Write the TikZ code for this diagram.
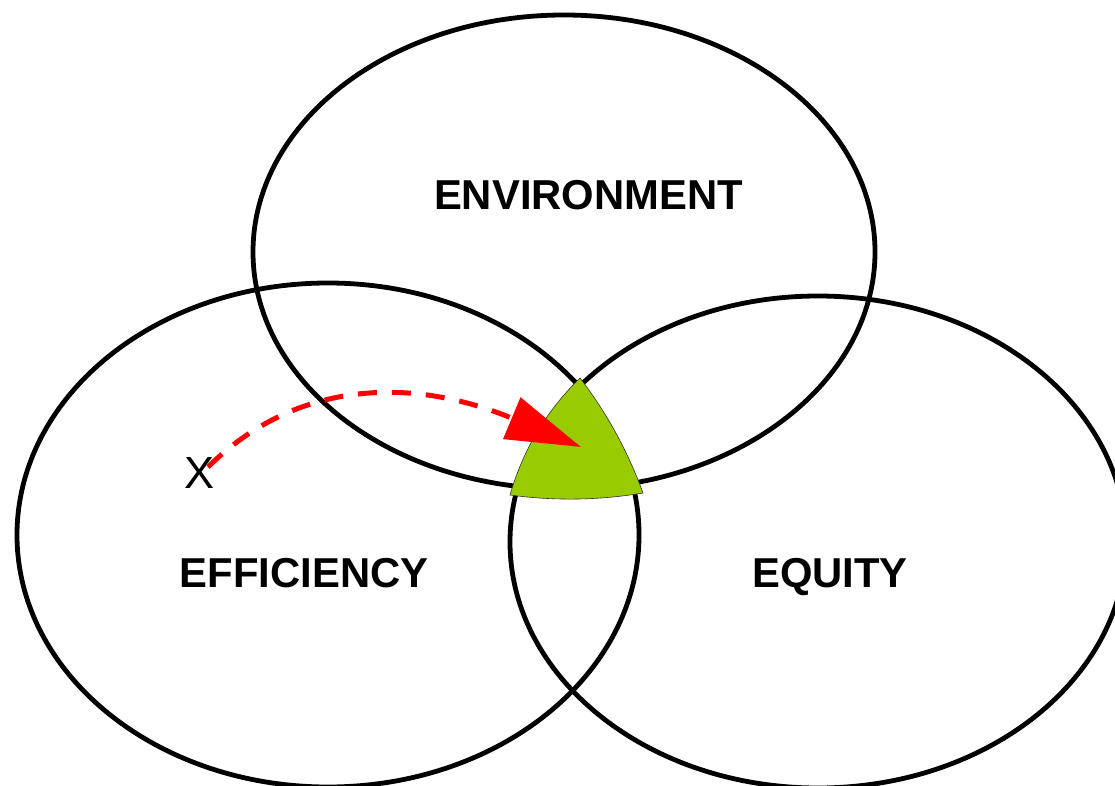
\documentclass[tikz,border=0pt]{standalone}
\usepackage{fontspec}
\setmainfont{Liberation Sans}
\usetikzlibrary{arrows.meta,shapes.geometric}
\definecolor{leaf}{RGB}{153,204,0}
\begin{document}
\begin{tikzpicture}[x=1pt,y=1pt,
  venn/.style={ellipse, draw=black, line width=4.8pt, inner sep=0pt},
  lbl/.style={anchor=base, inner sep=0pt, font=\bfseries\fontsize{41.8}{48}\selectfont},
  pathway/.style={draw=red, line width=5pt, dash pattern=on 19pt off 15pt, -{Triangle[length=75pt,width=44pt]}},
  core/.style={fill=leaf, draw=black!80, line width=0.6pt}
]
\useasboundingbox (0,0) rectangle (1115,-786);
\clip (0,0) rectangle (1115,-786);
\node[venn, minimum width=622pt, minimum height=474pt] (env) at (564,-252) {};
\node[venn, minimum width=622pt, minimum height=504pt] (eff) at (328,-535) {};
\node[venn, minimum width=616pt, minimum height=492pt] (equ) at (818,-542) {};
\coordinate (ctop) at (580,-378);
\coordinate (cleft) at (510,-495);
\coordinate (cright) at (643,-493);
\draw[core] (ctop) .. controls (546.4,-410.8) and (523,-449.8) .. (cleft)
  .. controls (554.3,-501) and (598.7,-500.4) .. (cright)
  .. controls (627.9,-451.5) and (606.9,-413.1) .. (ctop) -- cycle;
\node[anchor=base, inner sep=0pt, font=\fontsize{45}{50}\selectfont] (xlab) at (200,-488) {X};
\coordinate (start) at (208,-467);
\coordinate (tip) at (581,-447);
\draw[pathway] (start) .. controls (297,-379) and (413,-377) .. (tip);
\node[lbl] (tenv) at (588.5,-210) {ENVIRONMENT};
\node[lbl] (teff) at (304,-587) {EFFICIENCY};
\node[lbl] (tequ) at (830,-587) {EQUITY};
\end{tikzpicture}
\end{document}
